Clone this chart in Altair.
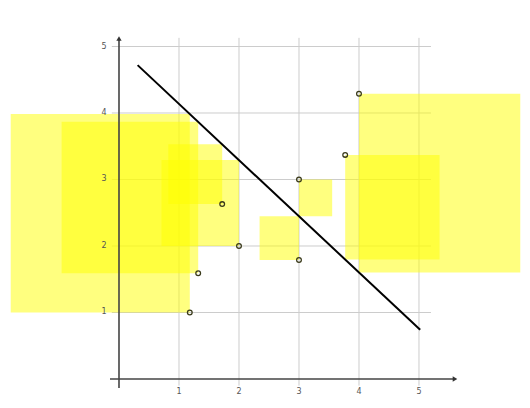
import altair as alt
import pandas as pd

# Data points
px = [1.18, 1.32, 1.72, 2.0, 3.0, 3.0, 3.77, 4.0]
py = [1.0, 1.59, 2.63, 2.0, 3.0, 1.79, 3.37, 4.29]

# Fitted (bad) line end points
line_x = [0.31, 5.02]
line_y = [4.72, 0.74]

# Grid / tick values
ticks = [1, 2, 3, 4, 5]
tick_labels = ["1", "2", "3", "4", "5"]

slope = (line_y[1] - line_y[0]) / (line_x[1] - line_x[0])
intercept = line_y[0] - slope * line_x[0]

W, H = 514, 392
xs = alt.Scale(domain=[-1.85, 6.717], nice=False, zero=False)
ys = alt.Scale(domain=[-0.316, 5.579], nice=False, zero=False)

pts = pd.DataFrame({"x": px, "y": py})
line_df = pd.DataFrame({"x": line_x, "y": line_y})
tick_df = pd.DataFrame({"v": ticks, "label": tick_labels})

base = alt.Chart(pts)

squares = base.transform_calculate(
    r=f"datum.y - ({intercept} + ({slope}) * datum.x)"
).transform_calculate(
    x2="datum.x + datum.r", y2="datum.y - datum.r"
).mark_rect(color="#ffff00", opacity=0.5).encode(
    x=alt.X("x:Q", scale=xs, axis=None),
    x2="x2:Q",
    y=alt.Y("y:Q", scale=ys, axis=None),
    y2="y2:Q",
)

vgrid = alt.Chart(tick_df).transform_calculate(a="-0.1", b="5.13").mark_rule(
    color="#cccccc", strokeWidth=1
).encode(
    x=alt.X("v:Q", scale=xs, axis=None),
    y=alt.Y("a:Q", scale=ys, axis=None),
    y2="b:Q",
)

hgrid = alt.Chart(tick_df).transform_calculate(a="-0.12", b="5.2").mark_rule(
    color="#cccccc", strokeWidth=1
).encode(
    y=alt.Y("v:Q", scale=ys, axis=None),
    x=alt.X("a:Q", scale=xs, axis=None),
    x2="b:Q",
)

axes_df = pd.DataFrame({
    "x": [0.0, -0.15], "x2": [0.0, 5.58],
    "y": [-0.135, 0.0], "y2": [5.1, 0.0],
})
axes = alt.Chart(axes_df).mark_rule(color="#444444", strokeWidth=1.6).encode(
    x=alt.X("x:Q", scale=xs, axis=None), x2="x2:Q",
    y=alt.Y("y:Q", scale=ys, axis=None), y2="y2:Q",
)

arrow_df = pd.DataFrame({
    "x": [0.0, 5.6], "y": [5.12, 0.0],
    "shape": ["triangle-up", "triangle-right"],
})
arrows = alt.Chart(arrow_df).mark_point(
    filled=True, color="#333333", size=28, opacity=1
).encode(
    x=alt.X("x:Q", scale=xs, axis=None),
    y=alt.Y("y:Q", scale=ys, axis=None),
    shape=alt.Shape("shape:N", scale=None, legend=None),
)

xlab = alt.Chart(tick_df).transform_calculate(yy="-0.2").mark_text(
    fontSize=8, color="#555555", font="DejaVu Sans", baseline="middle"
).encode(
    x=alt.X("v:Q", scale=xs, axis=None),
    y=alt.Y("yy:Q", scale=ys, axis=None),
    text="label:N",
)

ylab = alt.Chart(tick_df).transform_calculate(xx="-0.25").mark_text(
    fontSize=8, color="#555555", font="DejaVu Sans", baseline="middle"
).encode(
    y=alt.Y("v:Q", scale=ys, axis=None),
    x=alt.X("xx:Q", scale=xs, axis=None),
    text="label:N",
)

fit = alt.Chart(line_df).mark_line(color="#000000", strokeWidth=2).encode(
    x=alt.X("x:Q", scale=xs, axis=None),
    y=alt.Y("y:Q", scale=ys, axis=None),
)

dots = base.mark_point(
    shape="circle", size=22, filled=False, stroke="#3a3a1a", strokeWidth=1.3, opacity=1
).encode(
    x=alt.X("x:Q", scale=xs, axis=None),
    y=alt.Y("y:Q", scale=ys, axis=None),
)

chart = alt.layer(
    vgrid, hgrid, squares, axes, arrows, xlab, ylab, fit, dots
).properties(
    width=W, height=H, autosize="none", padding=0
).configure_view(stroke=None)

chart.save("out.html", embed_options={"renderer": "svg", "actions": False})
